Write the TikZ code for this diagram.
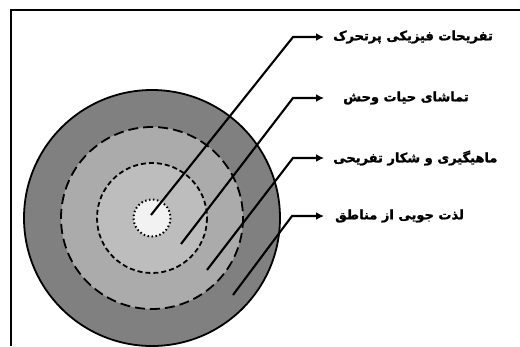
\documentclass[tikz,border=0pt]{standalone}
\usepackage{fontspec}
\TeXXeTstate=1
\newfontfamily\arabicfont[Script=Arabic,FakeBold=1.4]{DejaVu Sans Bold}
\usetikzlibrary{arrows.meta}
\begin{document}
\begin{tikzpicture}[x=1pt,y=-1pt,
  ring/.style={line width=1.8pt},
  label/.style={anchor=west,inner sep=0pt,font=\arabicfont\fontsize{13}{15}\selectfont},
  pointer/.style={line width=2.1pt,-{Latex[length=8pt,width=8pt]},shorten >=9pt}]
\useasboundingbox (0,0) rectangle (520,346);
\draw[line width=2.2pt] (11,346) -- (11,10) -- (520,10);
\coordinate (c) at (152,218);
\fill[black!50] (c) circle (128);
\draw[ring] (c) circle (128);
\fill[black!33] (c) circle (91);
\draw[ring,dash pattern=on 10pt off 5pt] (c) circle (91);
\fill[black!26] (c) circle (55);
\draw[ring,dash pattern=on 5pt off 3pt] (c) circle (55);
\fill[black!5] (c) circle (18.5);
\draw[line width=2pt,dash pattern=on 1.5pt off 2.5pt] (c) circle (18.5);
\node[label] (t1) at (333,37) {\beginR تفریحات فیزیکی پرتحرک\endR};
\node[label] (t2) at (343,98) {\beginR تماشای حیات وحش\endR};
\node[label] (t3) at (333,158) {\beginR ماهیگیری و شکار تفریحی\endR};
\node[label] (t4) at (335,216) {\beginR لذت جویی از مناطق\endR};
\coordinate (s1) at (151,215);
\coordinate (s2) at (181,244);
\coordinate (s3) at (207,270);
\coordinate (s4) at (233,295);
\coordinate (b1) at (293,37);
\coordinate (b2) at (293,98);
\coordinate (b3) at (293,158);
\coordinate (b4) at (292,216);
\draw[pointer] (s1) -- (b1) -- (t1.west);
\draw[pointer,shorten >=19pt] (s2) -- (b2) -- (t2.west);
\draw[pointer] (s3) -- (b3) -- (t3.west);
\draw[pointer,shorten >=11pt] (s4) -- (b4) -- (t4.west);
\end{tikzpicture}
\end{document}
